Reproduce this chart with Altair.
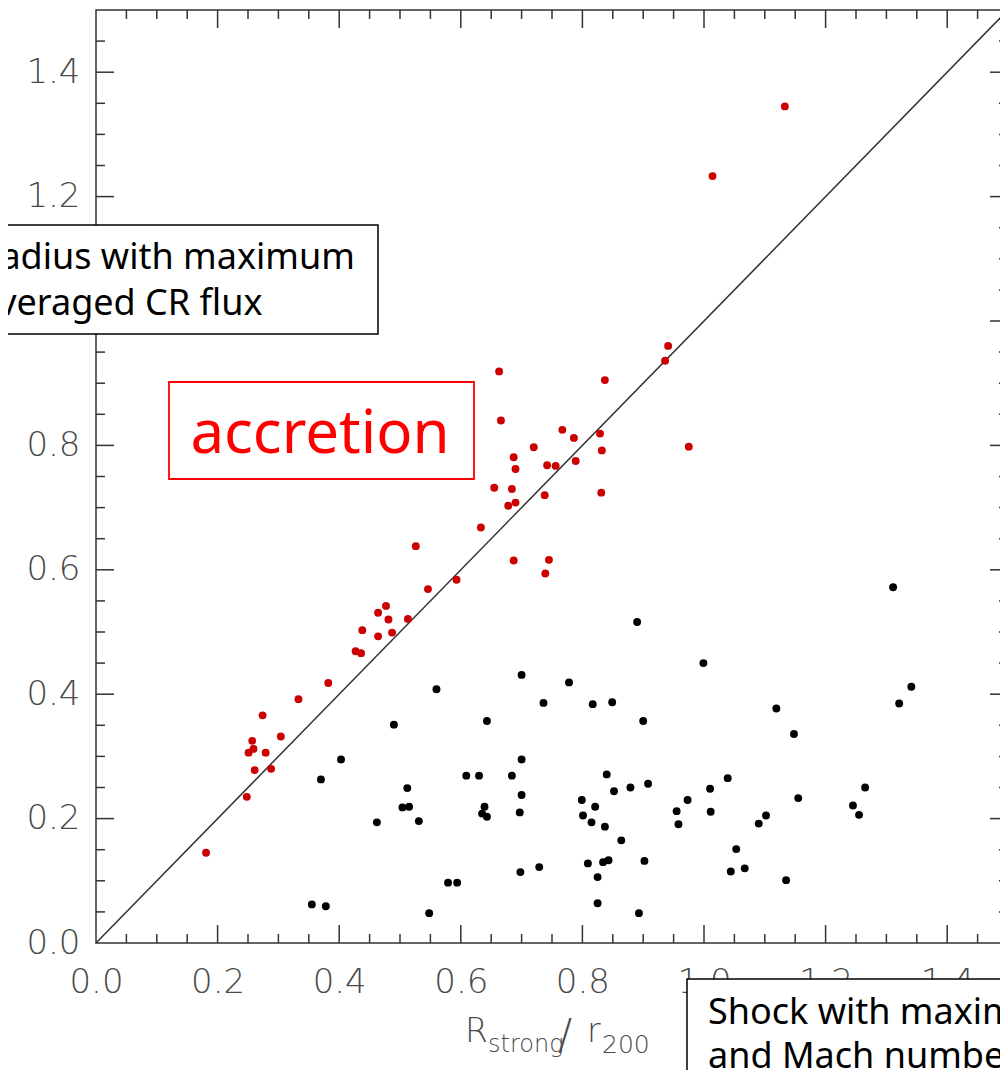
import altair as alt
import pandas as pd
import numpy as np

# ---------------- data ----------------
# red points: "accretion" (radius with maximum averaged CR flux)
red_x = [1.133, 1.014, 0.941, 0.936, 0.837, 0.663, 0.666, 0.767, 0.786, 0.829,
         0.975, 0.720, 0.832, 0.687, 0.789, 0.690, 0.742, 0.756, 0.655, 0.684,
         0.831, 0.738, 0.678, 0.690, 0.633, 0.526, 0.687, 0.745, 0.739, 0.593,
         0.546, 0.513, 0.477, 0.464, 0.481, 0.438, 0.464, 0.487, 0.427, 0.436,
         0.382, 0.333, 0.274, 0.304, 0.257, 0.259, 0.251, 0.279, 0.261, 0.288,
         0.248, 0.181]
red_y = [1.345, 1.233, 0.960, 0.936, 0.905, 0.919, 0.840, 0.825, 0.812, 0.819,
         0.798, 0.797, 0.792, 0.781, 0.775, 0.762, 0.768, 0.767, 0.732, 0.730,
         0.724, 0.720, 0.703, 0.708, 0.668, 0.638, 0.615, 0.616, 0.594, 0.584,
         0.569, 0.521, 0.542, 0.531, 0.520, 0.503, 0.493, 0.499, 0.469, 0.466,
         0.418, 0.392, 0.366, 0.332, 0.325, 0.312, 0.306, 0.306, 0.278, 0.280,
         0.235, 0.145]

# black points
blk_x = [0.355, 0.378, 0.370, 0.403, 0.462, 0.490, 0.560, 0.700, 0.778, 0.999,
         0.736, 0.817, 0.849, 0.643, 0.900, 1.119, 0.700, 0.609, 0.630, 0.684,
         0.840, 1.039, 0.512, 0.852, 0.879, 0.908, 1.010, 0.700, 0.504, 0.515,
         0.639, 0.799, 0.821, 0.973, 0.531, 0.635, 0.643, 0.697, 0.801, 0.815,
         0.837, 0.955, 0.958, 1.011, 1.090, 1.102, 0.864, 1.053, 0.809, 0.834,
         0.843, 0.902, 0.729, 0.698, 1.044, 1.067, 0.825, 0.579, 0.594, 0.825,
         0.548, 0.893, 0.890, 1.311, 1.341, 1.321, 1.148, 1.155, 1.135, 1.265,
         1.245, 1.255]
blk_y = [0.062, 0.059, 0.263, 0.295, 0.194, 0.351, 0.408, 0.431, 0.419, 0.450,
         0.386, 0.384, 0.387, 0.357, 0.357, 0.377, 0.295, 0.269, 0.269, 0.269,
         0.271, 0.265, 0.249, 0.244, 0.250, 0.256, 0.248, 0.238, 0.218, 0.219,
         0.219, 0.230, 0.219, 0.230, 0.196, 0.208, 0.203, 0.210, 0.205, 0.194,
         0.187, 0.212, 0.191, 0.211, 0.192, 0.205, 0.165, 0.151, 0.128, 0.130,
         0.133, 0.132, 0.122, 0.114, 0.115, 0.120, 0.106, 0.097, 0.097, 0.064,
         0.048, 0.048, 0.516, 0.572, 0.412, 0.385, 0.336, 0.233, 0.101, 0.250,
         0.221, 0.206]

diag_x = [0.0, 1.5]
diag_y = [0.0, 1.5]

tick_labels = [0.0, 0.2, 0.4, 0.6, 0.8, 1.0, 1.2, 1.4]
major_ticks = [0.2, 0.4, 0.6, 0.8, 1.0, 1.2, 1.4]
minor_ticks = [0.05, 0.10, 0.15, 0.25, 0.30, 0.35, 0.45, 0.50, 0.55,
               0.65, 0.70, 0.75, 0.85, 0.90, 0.95, 1.05, 1.10, 1.15,
               1.25, 1.30, 1.35, 1.45]

# ---------------- layout / style ----------------
W, H = 912, 933
MAJ, MIN = 18, 9
AX = "#333333"
LAB = "#4a4a4a"
LABFONT = "DejaVu Sans"
ANNFONT = "Noto Sans"

xs = alt.Scale(domain=[0, 1.5], nice=False, zero=False)
ys = alt.Scale(domain=[0, 1.5], nice=False, zero=False)
xaxis = alt.Axis(values=tick_labels, format=".1f", ticks=False, tickSize=0,
                 domain=False, grid=False, labelFont=LABFONT, labelFontSize=34,
                 labelFontWeight=200, labelColor=LAB, labelPadding=22, title=None,
                 labelFlush=False, labelOverlap=False)
yaxis = alt.Axis(values=tick_labels, format=".1f", ticks=False, tickSize=0,
                 domain=False, grid=False, labelFont=LABFONT, labelFontSize=34,
                 labelFontWeight=200, labelColor=LAB, labelPadding=16, title=None,
                 labelFlush=False, labelOverlap=False)

pts = pd.concat([
    pd.DataFrame({"x": red_x, "y": red_y, "g": "accretion"}),
    pd.DataFrame({"x": blk_x, "y": blk_y, "g": "other"}),
])
diag = pd.DataFrame({"x": diag_x, "y": diag_y})
mx = pd.DataFrame({"x": major_ticks})
mnx = pd.DataFrame({"x": minor_ticks})
my = pd.DataFrame({"y": major_ticks})
mny = pd.DataFrame({"y": minor_ticks})
one = pd.DataFrame({"k": [0]})

X = alt.X("x:Q", scale=xs, axis=xaxis)
Y = alt.Y("y:Q", scale=ys, axis=yaxis)

line = alt.Chart(diag).mark_line(color=AX, strokeWidth=1.5).encode(x=X, y=Y)
dots = alt.Chart(pts).mark_circle(size=62, opacity=1).encode(
    x=X, y=Y,
    color=alt.Color("g:N", scale=alt.Scale(domain=["accretion", "other"],
                                           range=["#cc0000", "#000000"]),
                    legend=None),
)

def xticks(df, top, length):
    if top:
        return alt.Chart(df).mark_rule(color=AX, strokeWidth=1.5).encode(
            x=X, y=alt.value(0), y2=alt.value(length))
    return alt.Chart(df).mark_rule(color=AX, strokeWidth=1.5).encode(
        x=X, y=alt.value(H), y2=alt.value(H - length))

def yticks(df, right, length):
    if right:
        return alt.Chart(df).mark_rule(color=AX, strokeWidth=1.5).encode(
            y=Y, x=alt.value(W), x2=alt.value(W - length))
    return alt.Chart(df).mark_rule(color=AX, strokeWidth=1.5).encode(
        y=Y, x=alt.value(0), x2=alt.value(length))

ticks = [xticks(mx, False, MAJ), xticks(mnx, False, MIN),
         xticks(mx, True, MAJ), xticks(mnx, True, MIN),
         yticks(my, False, MAJ), yticks(mny, False, MIN),
         yticks(my, True, MAJ), yticks(mny, True, MIN)]

# axis title pieces (subscripts)
def txt(s, x, y, size, color=LAB, font=LABFONT, weight=200, angle=0, align="left"):
    kw = dict(align=align, baseline="alphabetic", font=font, fontSize=size,
              fontWeight=weight, color=color)
    if angle:
        kw["angle"] = angle
    return alt.Chart(one).mark_text(**kw).encode(
        x=alt.value(x), y=alt.value(y), text=alt.value(s))

xtitle = [txt("R", 369, 1032, 33), txt("strong", 392, 1042, 24),
          txt("/", 462, 1039, 42), txt("r", 491, 1032, 33),
          txt("200", 506, 1043, 25)]
ytitle = [txt("R", -102, 538, 33, angle=270, align="center"),
          txt("max", -92, 501, 25, angle=270, align="center"),
          txt("/", -102, 460, 36, angle=270, align="center"),
          txt("r", -102, 436, 33, angle=270, align="center"),
          txt("200", -92, 413, 25, angle=270, align="center")]

# annotation boxes
def box(x1, x2, y1, y2, stroke, fill="white", sw=1.5):
    return alt.Chart(one).mark_rect(fill=fill, stroke=stroke, strokeWidth=sw).encode(
        x=alt.value(x1), x2=alt.value(x2), y=alt.value(y1), y2=alt.value(y2))

radius_box = box(-140, 282, 215, 324, "black")
radius_txt = alt.Chart(one).mark_text(
    align="left", baseline="alphabetic", font=ANNFONT, fontSize=36,
    lineHeight=46, color="black").encode(
    x=alt.value(-118), y=alt.value(259),
    text=alt.value(["Radius with maximum", "averaged CR flux"]))

acc_box = box(73, 378, 372, 469, "#ff0000", fill="white", sw=1.8)
acc_txt = alt.Chart(one).mark_text(
    align="center", baseline="alphabetic", font=ANNFONT, fontSize=60,
    color="#ff0000").encode(x=alt.value(224), y=alt.value(443),
                            text=alt.value("accretion"))

shock_box = box(591, 990, 969, 1110, "black")
shock_txt = alt.Chart(one).mark_text(
    align="left", baseline="alphabetic", font=ANNFONT, fontSize=36,
    lineHeight=44, color="black").encode(
    x=alt.value(612), y=alt.value(1014),
    text=alt.value(["Shock with maximum flux", "and Mach number"]))

chart = alt.layer(
    line, dots, *ticks, *xtitle, *ytitle,
    radius_box, radius_txt, acc_box, acc_txt, shock_box, shock_txt,
).properties(
    width=W, height=H,
    autosize=alt.AutoSizeParams(type="none"),
    padding={"left": 88, "top": 2, "right": -8, "bottom": 127},
).configure_view(stroke=AX, strokeWidth=1.5)

chart.save("out.html", embed_options={"renderer": "svg", "actions": False})
